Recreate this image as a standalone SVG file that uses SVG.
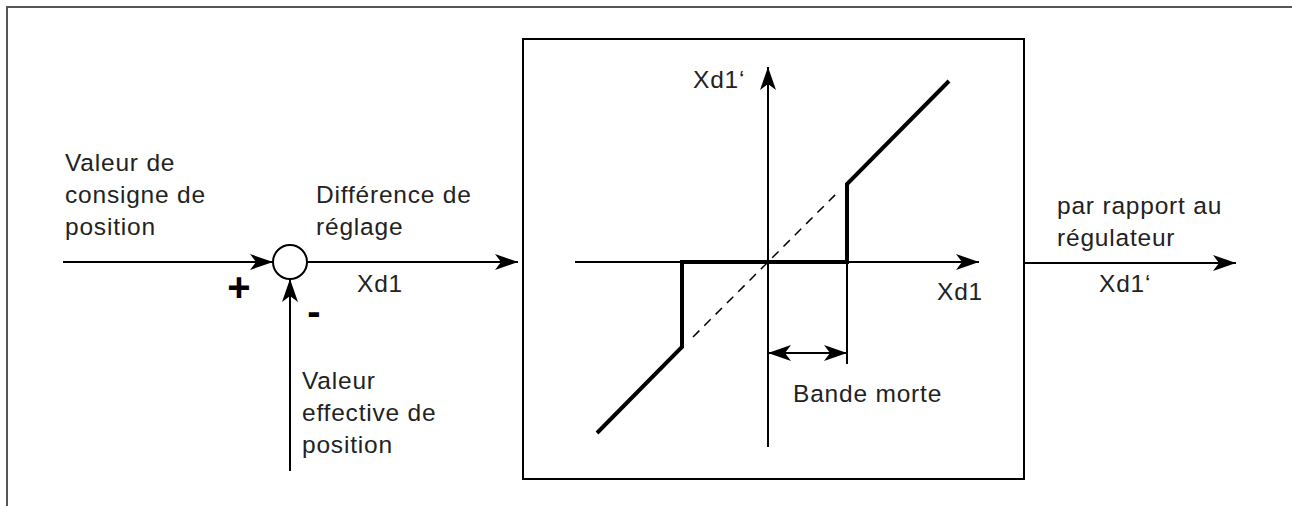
<svg xmlns="http://www.w3.org/2000/svg" width="1292" height="506" viewBox="0 0 1292 506">
<style>
.t{font-family:"Liberation Sans",Arial,sans-serif;font-size:24.5px;letter-spacing:0.8px;fill:#222}
.s{font-family:"Liberation Sans",Arial,sans-serif;font-weight:bold;fill:#000}
.ln{stroke:#000;stroke-width:2;fill:none}
.thick{stroke:#000;stroke-width:4;fill:none}
</style>
<defs>
<marker id="ah" markerWidth="23" markerHeight="16" refX="23" refY="8" orient="auto" markerUnits="userSpaceOnUse">
<path d="M0,0 L23,8 L0,16 L6,8 Z" fill="#000"/>
</marker>
<marker id="ahs" markerWidth="23" markerHeight="16" refX="23" refY="8" orient="auto-start-reverse" markerUnits="userSpaceOnUse">
<path d="M0,0 L23,8 L0,16 L6,8 Z" fill="#000"/>
</marker>
</defs>
<rect x="7" y="7" width="1300" height="520" fill="none" stroke="#555" stroke-width="2"/>

<g id="connectors">
<line class="ln" x1="63" y1="262" x2="273" y2="262" marker-end="url(#ah)"/>
<line class="ln" x1="290" y1="471" x2="290" y2="279" marker-end="url(#ah)"/>
<line class="ln" x1="307" y1="262" x2="518" y2="262" marker-end="url(#ah)"/>
<line class="ln" x1="1024" y1="263" x2="1236" y2="263" marker-end="url(#ah)"/>
</g>

<g id="sum">
<circle cx="290" cy="262" r="17" fill="#fff" stroke="#000" stroke-width="2"/>
<text class="s" x="239" y="301" font-size="40" text-anchor="middle">+</text>
<text class="s" x="314" y="325" font-size="40" text-anchor="middle">-</text>
</g>

<g id="input-labels">
<text class="t" x="65" y="171">Valeur de</text>
<text class="t" x="65" y="203">consigne de</text>
<text class="t" x="65" y="235">position</text>
<text class="t" x="316" y="203">Différence de</text>
<text class="t" x="316" y="235">réglage</text>
<text class="t" x="357" y="292">Xd1</text>
<text class="t" x="302" y="389">Valeur</text>
<text class="t" x="302" y="421">effective de</text>
<text class="t" x="302" y="453">position</text>
</g>

<g id="deadband-block">
<rect x="523" y="39" width="501" height="440" fill="none" stroke="#000" stroke-width="2"/>
<line class="ln" x1="575" y1="262" x2="979" y2="262" marker-end="url(#ah)"/>
<line class="ln" x1="768" y1="447" x2="768" y2="67" marker-end="url(#ah)"/>
<line x1="693" y1="337" x2="840" y2="190" stroke="#000" stroke-width="1.5" stroke-dasharray="9,7"/>
<polyline class="thick" points="597,433 682,347 682,262 847,262 847,184 949,81"/>
<line class="ln" x1="847" y1="262" x2="847" y2="364"/>
<line class="ln" x1="768" y1="353" x2="847" y2="353" marker-start="url(#ahs)" marker-end="url(#ahs)"/>
<text class="t" x="693" y="88">Xd1‘</text>
<text class="t" x="937" y="300">Xd1</text>
<text class="t" x="793" y="402">Bande morte</text>
</g>

<g id="output-labels">
<text class="t" x="1057" y="214">par rapport au</text>
<text class="t" x="1057" y="246">régulateur</text>
<text class="t" x="1099" y="292">Xd1‘</text>
</g>
</svg>
